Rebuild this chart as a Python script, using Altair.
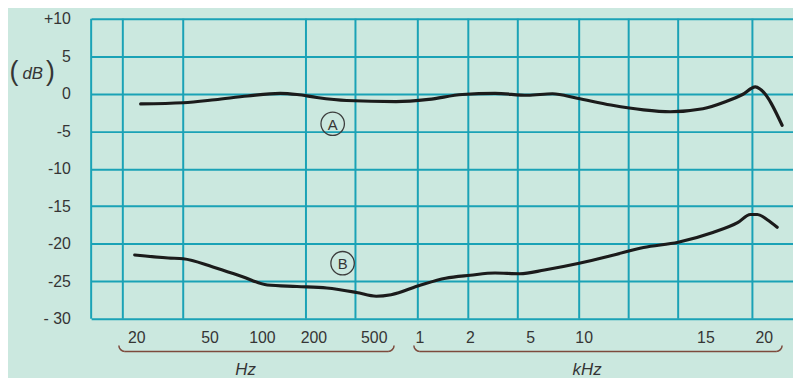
import altair as alt
import pandas as pd

# ---- data (x = position along the printed frequency scale, y = dB) ----
a_pos = [50, 93, 125, 158, 191, 208, 228, 258, 308, 341, 375, 408, 441, 466, 491, 525, 558, 585, 618, 641, 658, 671, 676, 698]
a_db = [-1.35, -1.2, -0.8, -0.3, 0.05, -0.1, -0.5, -0.9, -1.05, -0.75, -0.1, 0.05, -0.2, 0.0, -0.6, -1.5, -2.15, -2.4, -2.0, -1.05, -0.1, 0.92, 0.6, -4.2]

b_pos = [44, 78, 93, 123, 153, 178, 208, 238, 268, 288, 303, 333, 358, 383, 408, 433, 458, 493, 528, 558, 593, 628, 653, 666, 673, 683, 693]
b_db = [-21.5, -21.9, -22.0, -23.1, -24.4, -25.5, -25.7, -25.9, -26.5, -27.0, -26.8, -25.5, -24.6, -24.2, -23.9, -24.0, -23.5, -22.6, -21.5, -20.5, -19.8, -18.5, -17.2, -16.1, -16.1, -16.8, -17.8]

grid_pos = [0, 32, 93, 217, 267, 330, 381, 431, 493, 543, 593, 668]
y_ticks = [10, 5, 0, -5, -10, -15, -20, -25, -30]

tick_text = ["20", "50", "100", "200", "500", "1", "2", "5", "10", "15", "20"]
tick_pos = [46, 120, 173, 225, 286, 332, 383, 444, 498, 621, 680]

unit_text = ["Hz", "kHz"]
unit_pos = [156, 501]
brace_start = [34, 332]
brace_end = [300, 692]

curve_label = ["A", "B"]
curve_label_pos = [244, 254]
curve_label_db = [-4.0, -22.6]

# ---- styling ----
BG = "#cbe8df"
GRID = "#1aa2b6"
INK = "#353535"
BRACE = "#7d4a3c"
FONT = "Liberation Sans"
W, H = 709, 303
CURL_LEFT = "M0,1A1,1 0 0 1 -1,0"
CURL_RIGHT = "M0,1A1,1 0 0 0 1,0"

xs = alt.Scale(domain=[0, W], nice=False, zero=False)
ys = alt.Scale(domain=[-30, 10], nice=False, zero=False)
yaxis = alt.Axis(
    values=y_ticks, domain=False, ticks=False, labelPadding=21,
    grid=True, gridColor=GRID, gridWidth=2, gridOpacity=1,
    labelFont=FONT, labelFontSize=16, labelColor=INK, labelOverlap=False,
    labelExpr="datum.value == 10 ? '+10' : datum.value == -30 ? '- 30' : '' + datum.value",
)

curves = pd.DataFrame(
    {"pos": a_pos + b_pos, "db": a_db + b_db,
     "curve": ["A"] * len(a_pos) + ["B"] * len(b_pos)}
)
grid_df = pd.DataFrame({"pos": grid_pos})
ticks_df = pd.DataFrame({"pos": tick_pos, "text": tick_text})
units_df = pd.DataFrame({"pos": unit_pos, "text": unit_text, "start": brace_start, "end": brace_end})
labels_df = pd.DataFrame({"pos": curve_label_pos, "db": curve_label_db, "text": curve_label})

vgrid = alt.Chart(grid_df).mark_rule(color=GRID, strokeWidth=2).encode(
    x=alt.X("pos:Q", scale=xs, axis=None)
)

lines = alt.Chart(curves).mark_line(
    color="#1b1b1b", strokeWidth=3.2, interpolate="monotone", strokeCap="round"
).encode(
    x=alt.X("pos:Q", scale=xs, axis=None),
    y=alt.Y("db:Q", scale=ys, title=None, axis=yaxis),
    detail="curve:N",
)

circles = alt.Chart(labels_df).mark_point(
    shape="circle", filled=False, size=560, color="#3c3c3c", strokeWidth=1.3, opacity=1
).encode(x=alt.X("pos:Q", scale=xs, axis=None), y=alt.Y("db:Q", scale=ys, title=None, axis=yaxis))

letters = alt.Chart(labels_df).mark_text(
    font=FONT, fontSize=15, color=INK, baseline="middle", align="center", dy=1
).encode(x=alt.X("pos:Q", scale=xs, axis=None), y=alt.Y("db:Q", scale=ys, title=None, axis=yaxis), text="text:N")

tick_labels = alt.Chart(ticks_df).mark_text(
    font=FONT, fontSize=16, color=INK, baseline="middle", align="center"
).encode(x=alt.X("pos:Q", scale=xs, axis=None), y=alt.value(H + 20), text="text:N")

brace_line = alt.Chart(units_df).mark_rule(
    color=BRACE, strokeWidth=1.5
).encode(x=alt.X("start:Q", scale=xs, axis=None), x2="end:Q", y=alt.value(H + 33))

brace_left = alt.Chart(units_df).mark_point(
    shape=CURL_LEFT, filled=False, size=144, color=BRACE, strokeWidth=1.5, opacity=1
).encode(x=alt.X("start:Q", scale=xs, axis=None), y=alt.value(H + 27))

brace_right = alt.Chart(units_df).mark_point(
    shape=CURL_RIGHT, filled=False, size=144, color=BRACE, strokeWidth=1.5, opacity=1
).encode(x=alt.X("end:Q", scale=xs, axis=None), y=alt.value(H + 27))

unit_labels = alt.Chart(units_df).mark_text(
    font=FONT, fontSize=17, fontStyle="italic", color=INK, baseline="alphabetic", align="center"
).encode(x=alt.X("pos:Q", scale=xs, axis=None), y=alt.value(H + 57), text="text:N")

db_df = pd.DataFrame({"t": ["("], "u": [")"], "d": ["dB"]})
paren_l = alt.Chart(db_df).mark_text(
    font=FONT, fontSize=27, color=INK, baseline="middle", align="center"
).encode(x=alt.value(-78), y=alt.value(54), text="t:N")
paren_r = alt.Chart(db_df).mark_text(
    font=FONT, fontSize=27, color=INK, baseline="middle", align="center"
).encode(x=alt.value(-41), y=alt.value(54), text="u:N")
db_text = alt.Chart(db_df).mark_text(
    font=FONT, fontSize=17, fontStyle="italic", color=INK, baseline="middle", align="center"
).encode(x=alt.value(-59), y=alt.value(56), text="d:N")

chart = alt.layer(
    vgrid, lines, circles, letters, tick_labels, brace_line, brace_left, brace_right,
    unit_labels, paren_l, paren_r, db_text,
).properties(
    width=W, height=H,
    autosize=alt.AutoSizeParams(type="none"),
    padding={"left": 84, "top": 9, "right": 0, "bottom": 58},
).configure(background=BG).configure_view(stroke=None)

chart.save("out.html", embed_options={"renderer": "svg", "actions": False})
